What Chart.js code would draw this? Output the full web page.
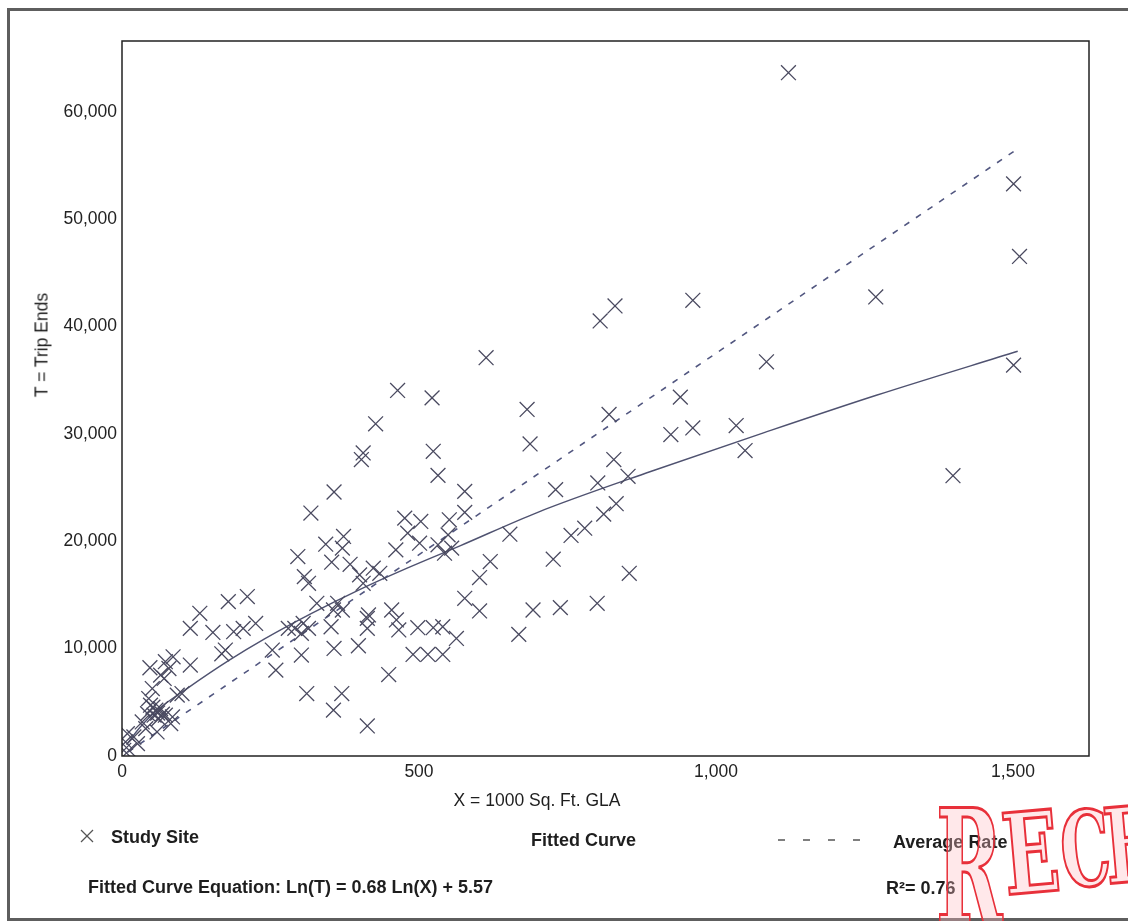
<!DOCTYPE html>
<html lang="en">
<head>
    <meta charset="UTF-8">
    <title>Trip Ends vs GLA</title>
    <script src="https://cdn.jsdelivr.net/npm/chart.js"></script>
    <style>
        body { margin: 0; background: #fff; font-family: "Liberation Sans", Arial, sans-serif; color: #1e1e1e; }
        #wrap { position: relative; width: 1128px; height: 921px; overflow: hidden; }
        #frame { position: absolute; left: 7px; top: 8px; width: 1140px; height: 907px; border: 3px solid #5e5e5e; border-right: none; }
        canvas { position: absolute; left: 0; top: 0; }
        .txt { position: absolute; white-space: nowrap; }
        .b { font-weight: bold; font-size: 18px; }
        #ytitle { left: 42px; top: 345px; font-size: 17.5px; transform: translate(-50%, -50%) rotate(-90deg); }
        #xtitle { left: 537px; top: 800px; font-size: 17.5px; transform: translate(-50%, -50%); }
        .st { position: absolute; font-family: "DejaVu Serif", serif; font-weight: bold; line-height: 1;
              color: rgba(255, 190, 195, 0.35); -webkit-text-stroke: 3px #e8303a; transform-origin: left top; }
    </style>
</head>
<body>
<div id="wrap">
    <div id="frame"></div>
    <canvas id="chart" width="1128" height="921"></canvas>

    <div class="txt" id="ytitle">T = Trip Ends</div>
    <div class="txt" id="xtitle">X = 1000 Sq. Ft. GLA</div>

    <!-- legend -->
    <svg style="position:absolute;left:80px;top:829px" width="14" height="14">
        <line x1="1" y1="1" x2="13" y2="13" stroke="#555" stroke-width="1.2"/>
        <line x1="13" y1="1" x2="1" y2="13" stroke="#555" stroke-width="1.2"/>
    </svg>
    <div class="txt b" style="left:111px;top:827px">Study Site</div>
    <div class="txt b" style="left:531px;top:830px">Fitted Curve</div>
    <svg style="position:absolute;left:776px;top:838px" width="90" height="4">
        <line x1="2" y1="2" x2="88" y2="2" stroke="#555" stroke-width="1.3" stroke-dasharray="7,18"/>
    </svg>
    <div class="txt b" style="left:893px;top:832px">Average Rate</div>
    <div class="txt b" style="left:88px;top:877px">Fitted Curve Equation: Ln(T) = 0.68 Ln(X) + 5.57</div>
    <div class="txt b" style="left:886px;top:878px">R²= 0.76</div>

    <!-- received stamp -->
    <div class="st" style="left:936px;top:788px;font-size:160px;transform:scaleX(0.5)">R</div>
    <div class="st" style="left:998px;top:800px;font-size:112px;transform:rotate(-5deg) scaleX(0.66)">E</div>
    <div class="st" style="left:1056px;top:800px;font-size:104px;transform:rotate(-5deg) scaleX(0.6)">C</div>
    <div class="st" style="left:1100px;top:796px;font-size:104px;transform:rotate(-5deg) scaleX(0.62)">E</div>
</div>

<script>
    // study sites, X = 1000 sq ft GLA, T = trip ends
    const siteX = [
        1122, 1501, 1511, 961, 1269, 1085, 1501, 940, 924, 961, 1034, 1049, 1399,
        805, 830,
        613, 682, 820, 687, 828, 852, 577, 730, 801, 577, 832, 811, 779, 756, 653, 620, 726, 602, 854, 577, 602, 692, 738, 800, 668,
        464, 522, 427, 406, 403, 524, 532, 357, 318, 476, 503, 551, 481, 501, 461, 549, 532, 555, 543, 343, 373, 371, 296, 353, 384,
        400, 423, 434, 307, 314, 406, 328, 363, 371, 356, 454, 415, 291, 305, 314, 302, 280, 352, 413, 413, 462, 466, 498, 524, 540,
        563, 302, 357, 398, 490, 515, 540, 449, 311, 370, 356, 413,
        211, 179, 131, 115, 153, 188, 204, 225, 174, 168, 253, 259, 115, 86, 73, 79, 47, 65, 71, 51, 93, 101, 45, 48, 65, 54, 62,
        43, 73, 57, 85, 82, 34, 40, 59, 20, 9, 6, 12, 26, 3, 60, 52, 68
    ];
    const siteT = [
        63650, 53290, 46530, 42450, 42760, 36720, 36410, 33430, 29940, 30560, 30780, 28450, 26110,
        40520, 41920,
        37100, 32280, 31810, 29070, 27610, 26050, 24650, 24810, 25430, 22690, 23500, 22530, 21220, 20540, 20660, 18110, 18330, 16620, 17020, 14690, 13510, 13600, 13820, 14220, 11330,
        34050, 33360, 30940, 28230, 27610, 28380, 26140, 24590, 22630, 22160, 21850, 22000, 20760, 19820, 19200, 20600, 19670, 19360, 18890, 19730, 20450, 19360, 18580, 18050, 17860,
        16870, 17490, 17020, 16710, 16090, 16090, 14220, 14220, 13600, 13600, 13600, 13140, 11890, 12350, 11890, 11420, 11890, 12040, 12820, 11890, 12670, 11740, 11950, 11950, 12040,
        10950, 9400, 10020, 10270, 9460, 9460, 9460, 7590, 5820, 5820, 4270, 2800,
        14850, 14380, 13290, 11890, 11510, 11580, 11890, 12350, 9870, 9520, 9870, 8000, 8470, 9240, 8780, 8150, 8220, 7530, 7220, 6280, 5670, 5820, 5350, 4730, 4420, 3800, 3480,
        3950, 3800, 4270, 3640, 3020, 3170, 2550, 2240, 1770, 2080, 1310, 530, 1150, 530, 4000, 4550, 3900
    ];

    // fitted curve
    const curveX = [8, 30, 60, 110, 180, 240, 320, 400, 480, 570, 700, 890, 1080, 1270, 1508];
    const curveT = [1080, 2650, 4300, 6300, 8900, 10900, 13300, 15500, 17500, 19600, 22700, 26500, 30100, 33600, 37700];

    // average rate line
    const avgX = [10, 1501];
    const avgT = [375, 56300];

    const xTicks = [0, 500, 1000, 1500];
    const yTicks = [0, 10000, 20000, 30000, 40000, 50000, 60000];

    const toPts = (xs, ys) => xs.map((x, i) => ({ x: x, y: ys[i] }));

    // box around the plot area
    const boxPlugin = {
        id: 'box',
        afterDatasetsDraw(chart) {
            const a = chart.chartArea, ctx = chart.ctx;
            ctx.save();
            ctx.strokeStyle = '#222';
            ctx.lineWidth = 1.5;
            ctx.strokeRect(a.left, a.top, a.right - a.left, a.bottom - a.top);
            ctx.restore();
        }
    };

    new Chart(document.getElementById('chart'), {
        type: 'scatter',
        data: {
            datasets: [
                {
                    label: 'Study Site',
                    data: toPts(siteX, siteT),
                    pointStyle: 'crossRot',
                    pointRadius: 10.5,
                    borderColor: '#4a4a60',
                    borderWidth: 1.3,
                    showLine: false
                },
                {
                    label: 'Fitted Curve',
                    data: toPts(curveX, curveT),
                    showLine: true,
                    pointRadius: 0,
                    borderColor: '#4f5270',
                    borderWidth: 1.4,
                    cubicInterpolationMode: 'monotone'
                },
                {
                    label: 'Average Rate',
                    data: toPts(avgX, avgT),
                    showLine: true,
                    pointRadius: 0,
                    borderColor: '#525780',
                    borderWidth: 1.6,
                    borderDash: [6, 8]
                }
            ]
        },
        options: {
            responsive: false,
            animation: false,
            layout: { padding: { left: 0, top: 41, right: 39, bottom: 125 } },
            plugins: { legend: { display: false }, tooltip: { enabled: false } },
            scales: {
                x: {
                    type: 'linear',
                    min: 0,
                    max: 1628,
                    grid: { display: false, drawTicks: false },
                    border: { display: false },
                    afterBuildTicks: s => { s.ticks = xTicks.map(v => ({ value: v })); },
                    afterFit: s => { s.height = 40; },
                    ticks: {
                        padding: 6,
                        color: '#222',
                        font: { family: 'Liberation Sans', size: 17.5 },
                        callback: v => v.toLocaleString('en-US')
                    }
                },
                y: {
                    min: 0,
                    max: 66600,
                    grid: { display: false, drawTicks: false },
                    border: { display: false },
                    afterBuildTicks: s => { s.ticks = yTicks.map(v => ({ value: v })); },
                    afterFit: s => { s.width = 122; },
                    ticks: {
                        padding: 5,
                        color: '#222',
                        font: { family: 'Liberation Sans', size: 17.5 },
                        callback: v => v.toLocaleString('en-US')
                    }
                }
            }
        },
        plugins: [boxPlugin]
    });
</script>
</body>
</html>
